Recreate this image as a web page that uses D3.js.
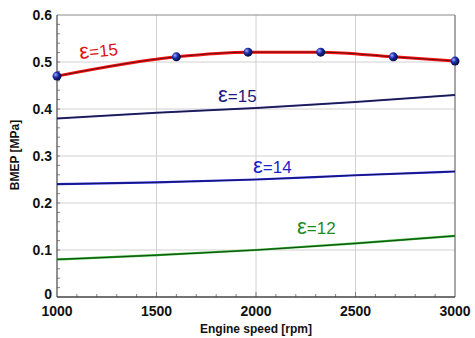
<!DOCTYPE html>
<html><head><meta charset="utf-8">
<script src="https://cdn.jsdelivr.net/npm/d3@7"></script>
<style>body{margin:0;background:#fff}svg{display:block}</style>
</head><body>
<svg id="c" width="475" height="338"></svg>
<script>
const rpm = [1000, 1500, 2000, 2500, 3000];
const rpmMeasured = [1000, 1600, 1960, 2325, 2690, 3000];
const bmepMeasured15 = [0.470, 0.511, 0.521, 0.521, 0.511, 0.502];
const bmepSim15 = [0.380, 0.392, 0.402, 0.415, 0.430];
const bmepSim14 = [0.240, 0.244, 0.250, 0.259, 0.267];
const bmepSim12 = [0.080, 0.089, 0.100, 0.114, 0.130];
const xTicks = [1000, 1500, 2000, 2500, 3000];
const yTicks = [0, 0.1, 0.2, 0.3, 0.4, 0.5, 0.6];
const labels = ["=15", "=15", "=14", "=12"];

const svg = d3.select("#c");
const L = 57, R = 455, T = 15, B = 297;
const x = d3.scaleLinear().domain([1000, 3000]).range([L, R]);
const y = d3.scaleLinear().domain([0, 0.6]).range([B, T]);

const defs = svg.append("defs");
const g = defs.append("radialGradient").attr("id", "ball").attr("cx", "35%").attr("cy", "35%").attr("r", "65%");
g.append("stop").attr("offset", "0%").attr("stop-color", "#9fb0ff");
g.append("stop").attr("offset", "45%").attr("stop-color", "#1f2fb0");
g.append("stop").attr("offset", "100%").attr("stop-color", "#050a40");

// grid
svg.append("g").selectAll("line").data(xTicks.slice(1, -1)).join("line")
  .attr("x1", d => x(d)).attr("x2", d => x(d)).attr("y1", T).attr("y2", B)
  .attr("stroke", "#d0d0d0").attr("stroke-width", 1);
svg.append("g").selectAll("line").data(yTicks.slice(1, -1)).join("line")
  .attr("x1", L).attr("x2", R).attr("y1", d => y(d)).attr("y2", d => y(d))
  .attr("stroke", "#d0d0d0").attr("stroke-width", 1);

// minor ticks
const xMinor = d3.range(1100, 3000, 100);
svg.append("g").selectAll("line").data(xMinor).join("line")
  .attr("x1", d => x(d)).attr("x2", d => x(d)).attr("y1", B).attr("y2", d => B - (d % 500 === 0 ? 5 : 3))
  .attr("stroke", "#666").attr("stroke-width", 0.8);
const yMinor = d3.range(0.02, 0.6, 0.02);
svg.append("g").selectAll("line").data(yMinor).join("line")
  .attr("x1", L).attr("x2", L + 3).attr("y1", d => y(d)).attr("y2", d => y(d))
  .attr("stroke", "#666").attr("stroke-width", 0.8);

// frame
svg.append("line").attr("x1", L).attr("x2", R).attr("y1", T).attr("y2", T).attr("stroke", "#8a8a8a").attr("stroke-width", 1.2);
svg.append("line").attr("x1", R).attr("x2", R).attr("y1", T).attr("y2", B).attr("stroke", "#8a8a8a").attr("stroke-width", 1.5);
svg.append("line").attr("x1", L).attr("x2", L).attr("y1", T).attr("y2", B).attr("stroke", "#555").attr("stroke-width", 1.3);
svg.append("line").attr("x1", L).attr("x2", R).attr("y1", B).attr("y2", B).attr("stroke", "#444").attr("stroke-width", 1.5);

// tick labels
svg.append("g").selectAll("text").data(yTicks).join("text")
  .attr("x", 52).attr("y", d => d === 0 ? 299 : y(d) + 5).attr("text-anchor", "end")
  .attr("font-family", "Liberation Sans, Arial, sans-serif").attr("font-weight", "bold").attr("font-size", 14)
  .attr("fill", "#111").text(d => d === 0 ? "0" : d3.format(".1f")(d));
svg.append("g").selectAll("text").data(xTicks).join("text")
  .attr("x", d => x(d)).attr("y", 316).attr("text-anchor", "middle")
  .attr("font-family", "Liberation Sans, Arial, sans-serif").attr("font-weight", "bold").attr("font-size", 14)
  .attr("fill", "#111").text(d => d);

// axis titles
svg.append("text").attr("x", 256).attr("y", 333).attr("text-anchor", "middle")
  .attr("font-family", "Liberation Sans, Arial, sans-serif").attr("font-weight", "bold").attr("font-size", 12)
  .attr("fill", "#111").text("Engine speed [rpm]");
svg.append("text").attr("transform", "translate(19,155) rotate(-90)").attr("text-anchor", "middle")
  .attr("font-family", "Liberation Sans, Arial, sans-serif").attr("font-weight", "bold").attr("font-size", 12)
  .attr("fill", "#111").text("BMEP [MPa]");

// lines
const line = d3.line().x(d => x(d[0])).y(d => y(d[1])).curve(d3.curveMonotoneX);
function drawPair(xs, ys, col, w) {
  const pts = xs.map((v, i) => [v, ys[i]]);
  svg.append("path").attr("d", line(pts)).attr("fill", "none").attr("stroke", col).attr("stroke-width", w);
  svg.append("path").attr("d", line(pts)).attr("fill", "none").attr("stroke", "#111").attr("stroke-width", 0.9).attr("stroke-opacity", 0.75);
}
drawPair(rpm, bmepSim12, "#22b022", 2.2);
drawPair(rpm, bmepSim14, "#2020e0", 2.2);
drawPair(rpm, bmepSim15, "#2a2a90", 2);
drawPair(rpmMeasured, bmepMeasured15, "#ff1010", 3);

svg.append("g").selectAll("circle").data(rpmMeasured.map((v, i) => [v, bmepMeasured15[i]])).join("circle")
  .attr("cx", d => x(d[0])).attr("cy", d => y(d[1])).attr("r", 4.5).attr("fill", "url(#ball)");

// labels
const lab = [
  {t: labels[0], x: 80, y: 59, c: "#e01010", rot: -6},
  {t: labels[1], x: 218, y: 102, c: "#1c1c80", rot: 0},
  {t: labels[2], x: 253, y: 173, c: "#1f1fc8", rot: 0},
  {t: labels[3], x: 297, y: 234, c: "#1f8a1f", rot: 0}
];
const lt = svg.append("g").selectAll("text").data(lab).join("text")
  .attr("transform", d => `translate(${d.x},${d.y}) rotate(${d.rot})`)
  .attr("font-family", "Liberation Sans, Arial, sans-serif").attr("font-size", 17)
  .attr("fill", d => d.c);
lt.append("tspan").attr("font-size", 22).text("ε");
lt.append("tspan").text(d => d.t);
</script>
</body></html>
